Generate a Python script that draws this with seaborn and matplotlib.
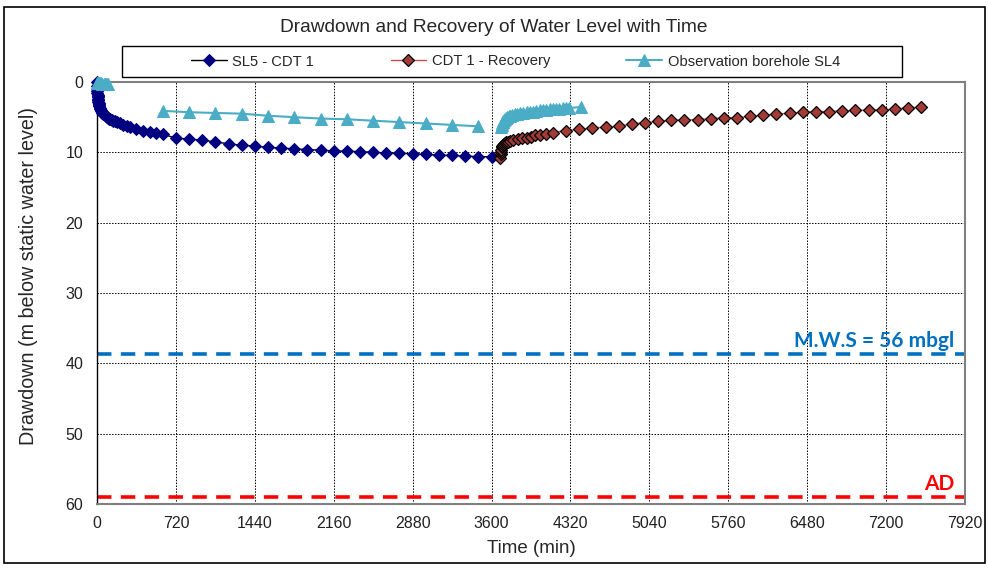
import numpy as np
import pandas as pd
import matplotlib.pyplot as plt
import seaborn as sns
from matplotlib.patches import Rectangle

# SL5 - CDT 1 (pumping phase)
sl5_time = [0, 1, 2, 3, 4, 5, 6, 7, 8, 9, 10, 12, 14, 16, 18, 20, 25, 30, 35, 40, 45, 50, 55, 60,
            70, 80, 90, 100, 110, 120, 135, 150, 165, 180, 210, 240, 270, 300, 360, 420, 480, 540, 600,
            720, 840, 960, 1080, 1200, 1320, 1440, 1560, 1680, 1800, 1920, 2040, 2160, 2280, 2400,
            2520, 2640, 2760, 2880, 3000, 3120, 3240, 3360, 3480, 3600]
sl5_dd = [0.0, 0.6, 1.0, 1.3, 1.6, 1.8, 2.0, 2.2, 2.35, 2.5, 2.6, 2.8, 3.0, 3.15, 3.3, 3.4, 3.65, 3.85,
          4.0, 4.15, 4.3, 4.4, 4.5, 4.6, 4.75, 4.9, 5.0, 5.1, 5.2, 5.3, 5.4, 5.5, 5.6, 5.7, 5.9, 6.1,
          6.3, 6.45, 6.7, 6.95, 7.1, 7.3, 7.4,
          8.0, 8.1, 8.3, 8.5, 8.8, 9.0, 9.1, 9.3, 9.4, 9.5, 9.6, 9.7, 9.8, 9.85, 9.9,
          10.0, 10.1, 10.15, 10.2, 10.3, 10.4, 10.45, 10.55, 10.6, 10.65]

# CDT 1 - Recovery
rec_time = [3680, 3682, 3685, 3688, 3692, 3697, 3703, 3710, 3720, 3735, 3750, 3770, 3800, 3840,
            3880, 3920, 3960, 4000, 4040, 4100, 4160, 4280, 4400, 4520, 4640, 4760, 4880, 5000,
            5120, 5240, 5360, 5480, 5600, 5720, 5840, 5960, 6080, 6200, 6320, 6440, 6560, 6680,
            6800, 6920, 7040, 7160, 7280, 7400, 7520]
rec_dd = [10.8, 10.3, 9.9, 9.6, 9.3, 9.1, 8.9, 8.8, 8.7, 8.6, 8.5, 8.4, 8.3, 8.15,
          8.0, 7.9, 7.75, 7.6, 7.5, 7.35, 7.2, 6.9, 6.75, 6.5, 6.45, 6.3, 5.95, 5.8,
          5.6, 5.45, 5.4, 5.35, 5.2, 5.1, 5.05, 4.9, 4.75, 4.55, 4.45, 4.3, 4.2, 4.2,
          4.1, 4.05, 4.0, 3.95, 3.85, 3.65, 3.6]

# Observation borehole SL4 (three separate segments)
obs_early_time = [0, 5, 10, 15, 20, 30, 40, 50, 60, 70, 80, 90, 100]
obs_early_dd = [0.1, 0.1, 0.15, 0.15, 0.2, 0.2, 0.2, 0.25, 0.25, 0.25, 0.3, 0.3, 0.3]
obs_pump_time = [600, 840, 1080, 1320, 1560, 1800, 2040, 2280, 2520, 2760, 3000, 3240, 3480]
obs_pump_dd = [4.1, 4.3, 4.4, 4.5, 4.8, 5.0, 5.2, 5.3, 5.5, 5.7, 5.9, 6.1, 6.3]
obs_rec_time = [3690, 3692, 3695, 3700, 3705, 3710, 3720, 3730, 3740, 3755, 3770, 3790, 3810, 3830,
                3860, 3890, 3920, 3950, 3980, 4010, 4040, 4070, 4100, 4130, 4160, 4190, 4220, 4250,
                4280, 4310, 4420]
obs_rec_dd = [6.4, 6.1, 5.9, 5.7, 5.5, 5.4, 5.2, 5.1, 5.0, 4.9, 4.8, 4.7, 4.6, 4.5,
              4.4, 4.35, 4.3, 4.2, 4.2, 4.1, 4.0, 4.0, 3.95, 3.9, 3.85, 3.8, 3.8, 3.75,
              3.7, 3.7, 3.55]

mws_level = 38.7
ad_level = 59.0
x_ticks = list(range(0, 7921, 720))
y_ticks = list(range(0, 61, 10))

sns.set_theme(style="white")
plt.rcParams['font.family'] = ['Liberation Sans', 'DejaVu Sans']

fig = plt.figure(figsize=(9.88, 5.68), dpi=100)
ax = fig.add_axes([97 / 988, 1 - 504 / 568, 868 / 988, 422 / 568])

# pumping curve
sns.lineplot(x=sl5_time, y=sl5_dd, ax=ax, color="black", linewidth=1, marker="D",
             markersize=6.5, markerfacecolor="#000080", markeredgecolor="#000080",
             sort=False, estimator=None, label="SL5 - CDT 1", clip_on=False, zorder=4)

# recovery curve
sns.lineplot(x=rec_time, y=rec_dd, ax=ax, color="#C0504D", linewidth=1, marker="D",
             markersize=6.5, markerfacecolor="#A23B36", markeredgecolor="black",
             markeredgewidth=0.9, sort=False, estimator=None, label="CDT 1 - Recovery",
             clip_on=False, zorder=4)

# observation borehole, drawn per segment so gaps are kept
obs_color = "#4BACC6"
segments = [(obs_early_time, obs_early_dd), (obs_pump_time, obs_pump_dd), (obs_rec_time, obs_rec_dd)]
for i, (t, d) in enumerate(segments):
    sns.lineplot(x=t, y=d, ax=ax, color=obs_color, linewidth=1.5, marker="^", markersize=8,
                 markerfacecolor=obs_color, markeredgecolor=obs_color, sort=False,
                 estimator=None, label="Observation borehole SL4" if i == 0 else None,
                 clip_on=False, zorder=5)

# reference levels
ax.axhline(mws_level, color="#0070C0", linestyle=(0, (4, 2.6)), linewidth=2.6, zorder=2)
ax.axhline(ad_level, color="#FF0000", linestyle=(0, (4, 2.6)), linewidth=2.6, zorder=2)
ax.text(7820, mws_level - 1.0, "M.W.S = 56 mbgl", color="#0070C0", fontsize=15,
        fontweight="bold", family=["Lato", "DejaVu Sans"], ha="right", va="baseline")
ax.text(7820, ad_level - 1.0, "AD", color="#FF0000", fontsize=15,
        fontweight="bold", family=["Lato", "DejaVu Sans"], ha="right", va="baseline")

ax.set_xlim(0, 7920)
ax.set_ylim(60, 0)
ax.set_xticks(x_ticks)
ax.set_yticks(y_ticks)
ax.tick_params(axis="both", labelsize=11.5, length=0, colors="#222222")
ax.tick_params(axis="x", pad=9)
ax.tick_params(axis="y", pad=10)
ax.grid(True, color="black", linestyle=(0, (1.5, 1.5)), linewidth=0.7)
for side in ["top", "right", "bottom"]:
    ax.spines[side].set_color("#808080")
    ax.spines[side].set_linewidth(1.5)
ax.spines["left"].set_color("black")
ax.spines["left"].set_linewidth(1)

ax.set_xlabel("Time (min)", fontsize=13.5, labelpad=6)
ax.set_ylabel("Drawdown (m below static water level)", fontsize=14.2)
ax.yaxis.set_label_coords(-59 / 868, 0.54)
fig.text(0.5, 1 - 27 / 568, "Drawdown and Recovery of Water Level with Time",
         ha="center", va="center", fontsize=13.8)

# legend in a box above the plot area
handles, labels = ax.get_legend_handles_labels()
ax.get_legend().remove()
fig.legend(handles, labels, loc="center", ncol=3, mode="expand", frameon=False,
           fontsize=10.6, handlelength=2.4, handletextpad=0.4,
           bbox_to_anchor=(178 / 988, 1 - 77 / 568, 675 / 988, 31 / 568))
fig.add_artist(Rectangle((122 / 988, 1 - 77 / 568), 780 / 988, 31 / 568,
                         transform=fig.transFigure, fill=False, edgecolor="black", linewidth=1))
fig.add_artist(Rectangle((4 / 988, 1 - 563 / 568), 981 / 988, 556 / 568,
                         transform=fig.transFigure, fill=False, edgecolor="black", linewidth=1.2))

fig.savefig("out.png", dpi=100)
